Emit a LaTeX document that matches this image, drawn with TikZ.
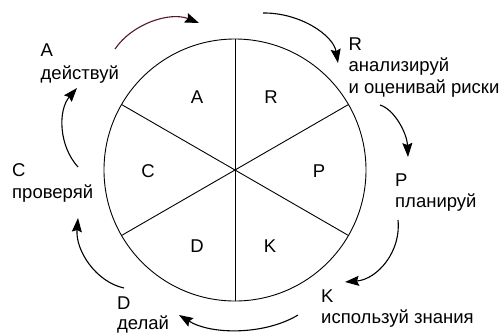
\documentclass[tikz,border=0pt]{standalone}
\usepackage{fontspec}
\setmainfont{Liberation Sans}
\usetikzlibrary{arrows.meta}
\definecolor{arcred}{RGB}{85,25,40}
\begin{document}
\begin{tikzpicture}[x=1pt,y=-1pt,
  lbl/.style={inner sep=0pt,anchor=base west,font=\fontsize{18.5}{22}\selectfont},
  seg/.style={inner sep=0pt,anchor=base,font=\fontsize{18.5}{22}\selectfont},
  cyc/.style={line width=1.1pt,-{Stealth[length=14pt,width=10pt,inset=2pt]}},
  rim/.style={line width=0.9pt}]
\useasboundingbox[fill=white] (0,0) rectangle (500,333);
% wheel
\coordinate (O) at (235,170);
\draw[rim] (O) circle[radius=131];
\coordinate (s1) at (235,39);
\coordinate (s2) at (121.5,104.5);
\coordinate (s3) at (121.5,235.5);
\coordinate (s4) at (235,301);
\coordinate (s5) at (348.5,235.5);
\coordinate (s6) at (348.5,104.5);
\foreach \n in {s1,s2,s3,s4,s5,s6}{\draw[rim] (O) -- (\n);}
% segment letters
\node[seg] (iA) at (197,103.5) {A};
\node[seg] (iR) at (271,103.5) {R};
\node[seg] (iC) at (148,177) {C};
\node[seg] (iP) at (319,177) {P};
\node[seg] (iD) at (197,252) {D};
\node[seg] (iK) at (270,252) {K};
% outer labels
\node[lbl] (A1) at (40.5,56) {A};
\node[lbl] (A2) at (40.5,79) {действуй};
\node[lbl] (R1) at (348.5,50) {R};
\node[lbl] (R2) at (348.5,71.5) {анализируй};
\node[lbl] (R3) at (348.5,93) {и оценивай риски};
\node[lbl] (P1) at (395,186) {P};
\node[lbl] (P2) at (395,207) {планируй};
\node[lbl] (K1) at (321,302) {K};
\node[lbl] (K2) at (321,323.5) {используй знания};
\node[lbl] (D1) at (117,309) {D};
\node[lbl] (D2) at (117,329.5) {делай};
\node[lbl] (C1) at (12,176.5) {C};
\node[lbl] (C2) at (12,198) {проверяй};
% arrow ends
\coordinate (a1s) at (115,49);  \coordinate (a1e) at (199,23);
\coordinate (a2s) at (263,13);  \coordinate (a2e) at (338,63);
\coordinate (a3s) at (380,105); \coordinate (a3e) at (408,157);
\coordinate (a4s) at (398,220); \coordinate (a4e) at (345,282);
\coordinate (a5s) at (298,315); \coordinate (a5e) at (179,315);
\coordinate (a6s) at (124,288); \coordinate (a6e) at (78,218);
\coordinate (a7s) at (78,167);  \coordinate (a7e) at (77,88);
\draw[cyc,draw=arcred,-{Stealth[length=14pt,width=10pt,inset=2pt,color=black]}] (a1s) .. controls (132.6,23.2) and (170.4,11.5) .. (a1e);
\draw[cyc] (a2s) .. controls (299.6,12.5) and (333.3,35) .. (a2e);
\draw[cyc] (a3s) .. controls (394.3,109.4) and (406.9,132.8) .. (a3e);
\draw[cyc] (a4s) .. controls (401.3,251.4) and (377.5,279.3) .. (a4e);
\draw[cyc] (a5s) .. controls (265,335) and (211.5,335) .. (a5e);
\draw[cyc] (a6s) .. controls (96,282) and (75.3,250.5) .. (a6e);
\draw[cyc] (a7s) .. controls (58.5,145.5) and (58,110) .. (a7e);
\end{tikzpicture}
\end{document}
